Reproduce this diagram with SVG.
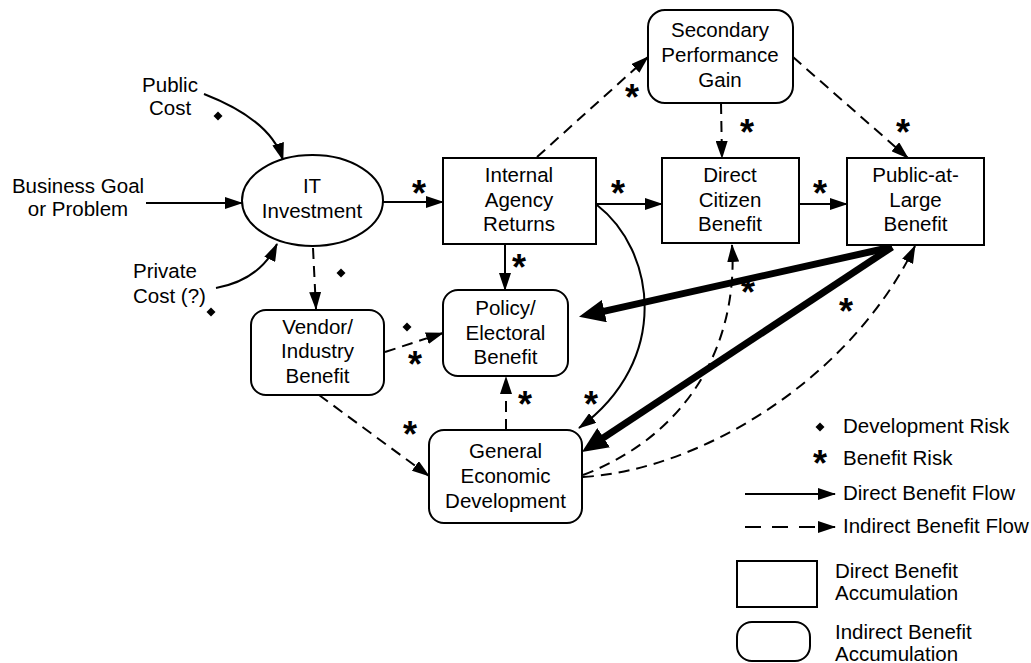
<svg xmlns="http://www.w3.org/2000/svg" width="1031" height="663" viewBox="0 0 1031 663">
<defs>
<style>
.n{fill:#fff;stroke:#000;stroke-width:2}
.t{font-family:"Liberation Sans",Arial,sans-serif;font-size:20.5px;text-anchor:middle;fill:#000}
.l{font-family:"Liberation Sans",Arial,sans-serif;font-size:20.5px;fill:#000}
.c{fill:none;stroke:#000;stroke-width:2;marker-end:url(#ah)}
.d{stroke-dasharray:11 7}
.k{fill:none;stroke:#000;stroke-width:7;marker-end:url(#ahk)}
.s{font-family:"Liberation Sans",Arial,sans-serif;font-weight:bold;font-size:36px;text-anchor:middle;fill:#000}
</style>
<marker id="ah" markerUnits="userSpaceOnUse" markerWidth="18" markerHeight="12" refX="17" refY="6" orient="auto"><path d="M0,0 L18,6 L0,12 z" fill="#000"/></marker>
<marker id="ahk" markerUnits="userSpaceOnUse" markerWidth="26" markerHeight="23" refX="10" refY="11.5" orient="auto"><path d="M0,0 L26,11.5 L0,23 z" fill="#000"/></marker>
<path id="dia" d="M0,-4.5 L4.5,0 L0,4.5 L-4.5,0 z" fill="#000"/>
</defs>
<rect width="1031" height="663" fill="#fff"/>

<g id="inputs">
<text class="t" x="170" y="92">Public</text>
<text class="t" x="170" y="115">Cost</text>
<text class="t" x="78" y="193">Business Goal</text>
<text class="t" x="78" y="216">or Problem</text>
<text class="l" x="133" y="278">Private</text>
<text class="l" x="133" y="303">Cost (?)</text>
</g>

<g id="risks">
<use href="#dia" x="218" y="116"/>
<use href="#dia" x="211" y="312"/>
<use href="#dia" x="341" y="273"/>
<use href="#dia" x="407" y="327"/>
<text class="s" x="419" y="206">*</text>
<text class="s" x="618" y="206">*</text>
<text class="s" x="820" y="206">*</text>
<text class="s" x="632" y="110">*</text>
<text class="s" x="747" y="145">*</text>
<text class="s" x="903" y="145">*</text>
<text class="s" x="519" y="280">*</text>
<text class="s" x="415" y="377">*</text>
<text class="s" x="525" y="417">*</text>
<text class="s" x="591" y="417">*</text>
<text class="s" x="410" y="447">*</text>
<text class="s" x="748" y="305">*</text>
<text class="s" x="846" y="324">*</text>
</g>

<g id="connectors">
<path class="c" d="M146,203 L242,203"/>
<path class="c" d="M204,94 Q271,120 283,160"/>
<path class="c" d="M216,288 Q260,280 277,244"/>
<path class="c" d="M383,202 L443,202"/>
<path class="c d" d="M313,248 L316,309"/>
<path class="c d" d="M537,157 L648,57"/>
<path class="c d" d="M721,103 L722,158"/>
<path class="c d" d="M793,57 L908,158"/>
<path class="c" d="M596,204 L662,204"/>
<path class="c" d="M799,204 L847,204"/>
<path class="c" d="M505,244 L505,290"/>
<path class="c" d="M597,205 C655,250 672,360 579,428"/>
<path class="c d" d="M506,430 L506,377"/>
<path class="c d" d="M385,352 L443,333"/>
<path class="c d" d="M319,395 L429,476"/>
<path class="c d" d="M583,475 C700,430 738,330 732,245"/>
<path class="c d" d="M583,477 C700,470 850,380 915,246"/>
<path class="k" d="M892,247 L594.6,313.3"/>
<path class="k" d="M892,247 L595.3,443.2"/>
</g>

<g id="it-investment">
<ellipse class="n" cx="312.5" cy="200.5" rx="70.5" ry="45.5"/>
<text class="t" x="312" y="193">IT</text>
<text class="t" x="312" y="218">Investment</text>
</g>
<g id="internal-agency-returns">
<rect class="n" x="443" y="158" width="153" height="86"/>
<text class="t" x="519" y="182">Internal</text>
<text class="t" x="519" y="207">Agency</text>
<text class="t" x="519" y="231">Returns</text>
</g>
<g id="secondary-performance-gain">
<rect class="n" x="648" y="10" width="145" height="93" rx="17"/>
<text class="t" x="720" y="37">Secondary</text>
<text class="t" x="720" y="62">Performance</text>
<text class="t" x="720" y="87">Gain</text>
</g>
<g id="direct-citizen-benefit">
<rect class="n" x="662" y="158" width="137" height="85"/>
<text class="t" x="730" y="182">Direct</text>
<text class="t" x="730" y="207">Citizen</text>
<text class="t" x="730" y="231">Benefit</text>
</g>
<g id="public-at-large-benefit">
<rect class="n" x="847" y="158" width="137" height="87"/>
<text class="t" x="915.5" y="182">Public-at-</text>
<text class="t" x="915.5" y="207">Large</text>
<text class="t" x="915.5" y="231">Benefit</text>
</g>
<g id="policy-electoral-benefit">
<rect class="n" x="443" y="290" width="125" height="86" rx="15"/>
<text class="t" x="505.5" y="315">Policy/</text>
<text class="t" x="505.5" y="340">Electoral</text>
<text class="t" x="505.5" y="364">Benefit</text>
</g>
<g id="vendor-industry-benefit">
<rect class="n" x="251" y="310" width="133" height="85" rx="15"/>
<text class="t" x="317.5" y="334">Vendor/</text>
<text class="t" x="317.5" y="358">Industry</text>
<text class="t" x="317.5" y="383">Benefit</text>
</g>
<g id="general-economic-development">
<rect class="n" x="429" y="430" width="153" height="93" rx="15"/>
<text class="t" x="505.5" y="458">General</text>
<text class="t" x="505.5" y="483">Economic</text>
<text class="t" x="505.5" y="508">Development</text>
</g>

<g id="legend">
<use href="#dia" x="820" y="427"/>
<text class="l" x="843" y="433">Development Risk</text>
<text class="s" x="820" y="476">*</text>
<text class="l" x="843" y="465">Benefit Risk</text>
<path class="c" d="M745,494 L835,494"/>
<text class="l" x="843" y="500">Direct Benefit Flow</text>
<path class="c" d="M745,527 L835,527" style="stroke-dasharray:16 11"/>
<text class="l" x="843" y="533">Indirect Benefit Flow</text>
<rect class="n" x="737" y="561" width="80" height="46"/>
<text class="l" x="835" y="578">Direct Benefit</text>
<text class="l" x="835" y="600">Accumulation</text>
<rect class="n" x="737" y="622" width="73" height="39" rx="15"/>
<text class="l" x="835" y="639">Indirect Benefit</text>
<text class="l" x="835" y="661">Accumulation</text>
</g>
</svg>
